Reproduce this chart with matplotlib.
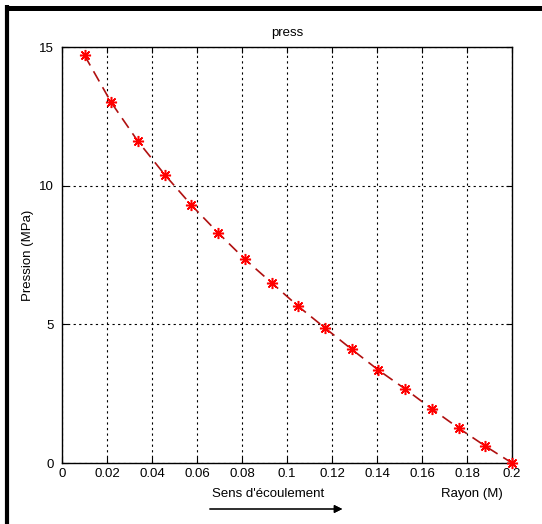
import matplotlib.pyplot as plt
from matplotlib.lines import Line2D

plt.rcParams['font.family'] = ['Liberation Sans', 'DejaVu Sans']

rayon = [0.01, 0.021875, 0.03375, 0.045625, 0.0575, 0.069375, 0.08125, 0.093125,
         0.105, 0.116875, 0.12875, 0.140625, 0.1525, 0.164375, 0.17625, 0.188125, 0.2]
pression = [14.7, 13.0, 11.6, 10.4, 9.3, 8.3, 7.35, 6.5,
            5.65, 4.87, 4.1, 3.35, 2.67, 1.95, 1.26, 0.61, 0.0]
xticks = [0, 0.02, 0.04, 0.06, 0.08, 0.1, 0.12, 0.14, 0.16, 0.18, 0.2]
xticklabels = ['0', '0.02', '0.04', '0.06', '0.08', '0.1', '0.12', '0.14', '0.16', '0.18', '0.2']
yticks = [0, 5, 10, 15]

fig = plt.figure(figsize=(5.42, 5.24), dpi=100)
ax = fig.add_axes([62 / 542, 1 - 463 / 524, 450 / 542, 416 / 524])

ax.plot(rayon, pression, color='#b01010', linestyle=(0, (7, 4)), linewidth=1.2, zorder=3)
ax.plot(rayon, pression, linestyle='none', marker=(8, 2, 0), markersize=8,
        markeredgewidth=1.1, color='red', markeredgecolor='red', zorder=4, clip_on=False)

ax.set_xlim(0, 0.2)
ax.set_ylim(0, 15)
ax.set_xticks(xticks)
ax.set_xticklabels(xticklabels)
ax.set_yticks(yticks)
ax.grid(True, color='black', linestyle=(0, (2, 3)), linewidth=0.8)
ax.tick_params(direction='in', top=True, right=True, labelsize=9.5, length=4)
ax.tick_params(axis='y', pad=6)
for s in ax.spines.values():
    s.set_linewidth(1.0)

ax.set_title('press', fontsize=9.5, pad=8)
ax.set_ylabel('Pression (MPa)', fontsize=9.5)
ax.yaxis.set_label_coords(-28 / 450, 0.5)
fig.text(472 / 542, 1 - 494 / 524, 'Rayon (M)', ha='center', va='center', fontsize=9.5)
fig.text(268 / 542, 1 - 494 / 524, "Sens d'écoulement", ha='center', va='center', fontsize=9.5)
fig.add_artist(plt.annotate('', xy=(345 / 542, 1 - 509 / 524), xytext=(207 / 542, 1 - 509 / 524),
                            xycoords='figure fraction',
                            arrowprops=dict(arrowstyle='-|>', color='black', lw=0.8,
                                            mutation_scale=12)))

# cropped window frame: thick top and left edges only
fig.add_artist(Line2D([5 / 542, 1], [1 - 7.5 / 524, 1 - 7.5 / 524], transform=fig.transFigure,
                      color='black', linewidth=3.6, solid_capstyle='butt'))
fig.add_artist(Line2D([7 / 542, 7 / 542], [0, 1 - 5 / 524], transform=fig.transFigure,
                      color='black', linewidth=3.0, solid_capstyle='butt'))

fig.savefig('out.png', dpi=100)
